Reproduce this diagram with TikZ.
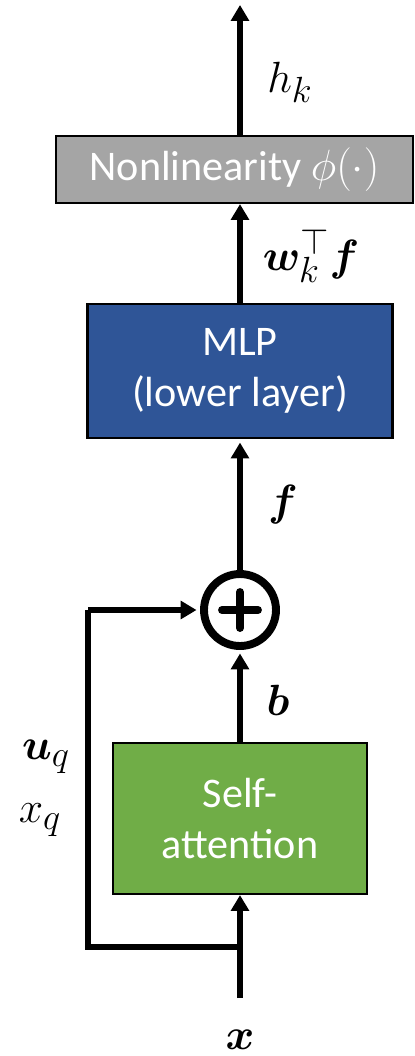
\documentclass[tikz,border=0pt]{standalone}
\usepackage{fontspec}
\setmainfont{Carlito}
\usepackage{bm}
\usetikzlibrary{arrows.meta,positioning}
\definecolor{nlgray}{HTML}{A5A5A5}
\definecolor{mlpblue}{HTML}{2F5597}
\definecolor{attgreen}{HTML}{70AD47}

\begin{document}
\begin{tikzpicture}[x=0.02cm,y=-0.02cm,
  block/.style={draw=black,line width=1.2pt,inner sep=0pt,align=center,
    text=white,font=\fontsize{24}{29}\selectfont},
  flow/.style={line width=2.9pt,-{Triangle[width=10pt,length=9pt]}},
  loop/.style={line width=2.9pt},
  lbl/.style={inner sep=0pt,font=\fontsize{29}{34}\selectfont}]

% === frame (keeps the margins of the picture) ===
\useasboundingbox (0,0) rectangle (414,1056);

% === blocks ===
\node[block,fill=nlgray,minimum width=7.14cm,minimum height=1.34cm] (nonlin) at (234.5,169.5)
  {Nonlinearity $\phi(\cdot)$};
\node[block,fill=mlpblue,minimum width=6.1cm,minimum height=2.68cm] (mlp) at (240,371)
  {MLP\\(lower layer)};
\node[draw,circle,line width=4.5pt,minimum size=1.44cm,inner sep=0pt] (plus) at (240,610) {};
\node[block,fill=attgreen,minimum width=5.08cm,minimum height=3.02cm] (attn) at (240,818.5)
  {Self-\\attention};

% plus sign inside the adder
\draw[line width=4.5pt,line cap=round] ([xshift=-0.36cm]plus.center) -- ([xshift=0.36cm]plus.center);
\draw[line width=4.5pt,line cap=round] ([yshift=-0.36cm]plus.center) -- ([yshift=0.36cm]plus.center);

% === free ends of the connectors ===
\coordinate (top) at (240,5);
\coordinate (in) at (240,998);
\coordinate (split) at (240,947);
\coordinate (loopbot) at (88,947);
\coordinate (looptop) at (88,610);

% === connectors ===
\draw[flow] (nonlin.north -| mlp.north) -- (top);
\draw[flow] (mlp.north) -- (nonlin.south -| mlp.north);
\draw[flow,shorten >=2pt] (mlp.south |- plus.north) -- (mlp.south);
\draw[flow,shorten >=2pt] (attn.north) -- (plus.south);
\draw[flow] (in) -- (attn.south);
\draw[loop] (split) -- (loopbot) -- (looptop);
\draw[flow,shorten >=2pt] (looptop) -- (plus.west);

% === labels ===
\node[lbl] (hk) at (290,82) {$h_k$};
\node[lbl] (wf) at (311,256) {$\bm{w}_k^{\top}\bm{f}$};
\node[lbl] (flab) at (283,505) {$\bm{f}$};
\node[lbl] (blab) at (278,700) {$\bm{b}$};
\node[lbl] (uq) at (46,757) {$\bm{u}_q$};
\node[lbl] (xq) at (40,820) {$x_q$};
\node[lbl] (xin) at (240,1040) {$\bm{x}$};

\end{tikzpicture}
\end{document}
